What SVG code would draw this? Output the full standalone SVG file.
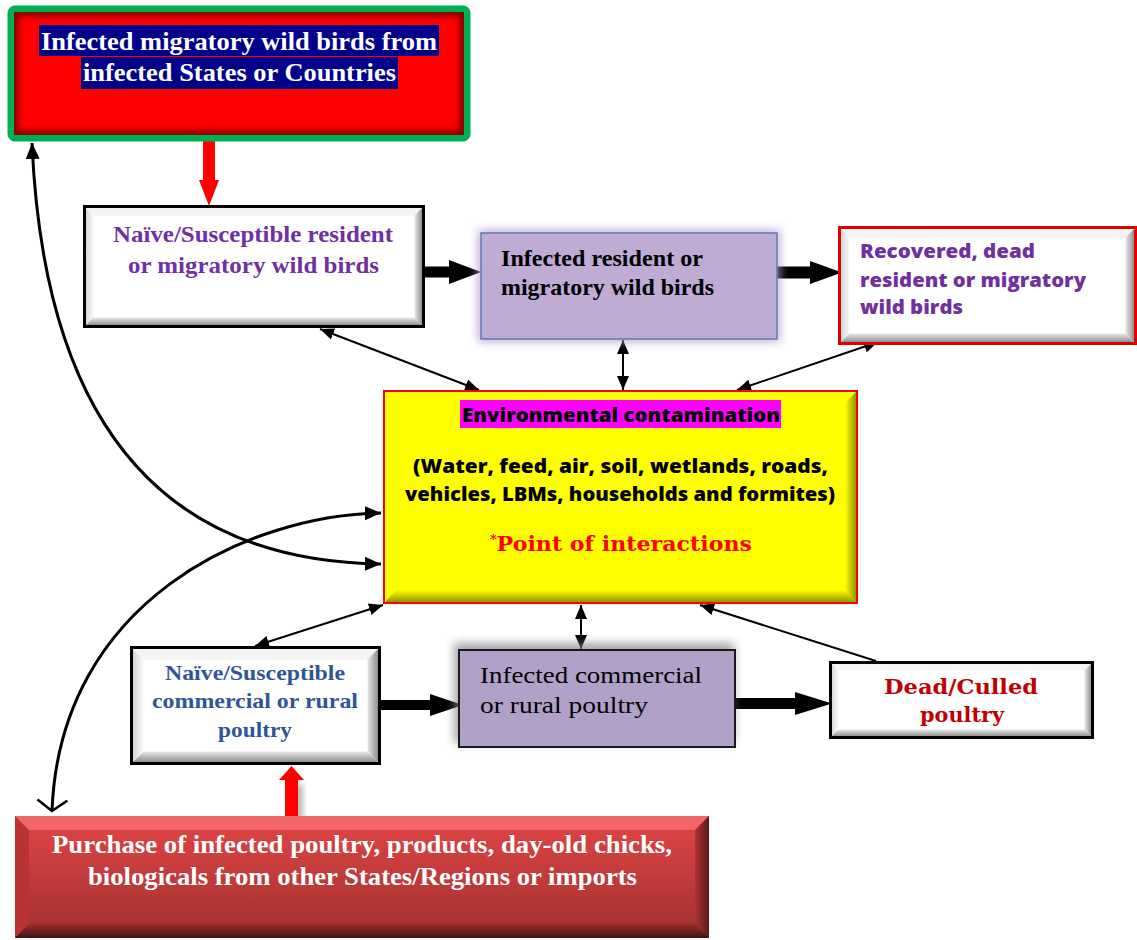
<svg xmlns="http://www.w3.org/2000/svg" width="1137" height="940" viewBox="0 0 1137 940">
<style>
.serifb{font-family:"Liberation Serif","Times New Roman",serif;font-weight:bold;}
.serif{font-family:"Liberation Serif","Times New Roman",serif;}
.sans{font-family:"Open Sans","Noto Sans",sans-serif;font-weight:800;}
.slab{font-family:"DejaVu Serif",serif;font-weight:bold;}
.thin{stroke:#000;stroke-width:2;fill:none;}
.curve{stroke:#000;stroke-width:3;fill:none;}
.thick{fill:#000;}
</style>
<defs>
<linearGradient id="gBot" x1="0" y1="0" x2="0" y2="1"><stop offset="0" stop-color="#e8e8e8"/><stop offset="1" stop-color="#808080"/></linearGradient>
<linearGradient id="gRight" x1="0" y1="0" x2="1" y2="0"><stop offset="0" stop-color="#e8e8e8"/><stop offset="1" stop-color="#808080"/></linearGradient>
<linearGradient id="gLeft" x1="0" y1="0" x2="1" y2="0"><stop offset="0" stop-color="#d0d0d0"/><stop offset="1" stop-color="#fafafa"/></linearGradient>
<linearGradient id="gYBot" x1="0" y1="0" x2="0" y2="1"><stop offset="0" stop-color="#ffff00"/><stop offset="1" stop-color="#8a8a00"/></linearGradient>
<linearGradient id="gYRight" x1="0" y1="0" x2="1" y2="0"><stop offset="0" stop-color="#ffff00"/><stop offset="1" stop-color="#8a8a00"/></linearGradient>
<linearGradient id="gRed" x1="0" y1="0" x2="0" y2="1"><stop offset="0" stop-color="#e24545"/><stop offset="1" stop-color="#a03030"/></linearGradient>
<linearGradient id="gRBot" x1="0" y1="0" x2="0" y2="1"><stop offset="0" stop-color="#9a2e2e"/><stop offset="1" stop-color="#451212"/></linearGradient>
<linearGradient id="gRRight" x1="0" y1="0" x2="1" y2="0"><stop offset="0" stop-color="#b03434"/><stop offset="1" stop-color="#5a1818"/></linearGradient>
<filter id="glow" x="-20%" y="-30%" width="140%" height="160%"><feGaussianBlur stdDeviation="5"/></filter>
<filter id="blur3" x="-20%" y="-30%" width="140%" height="160%"><feGaussianBlur stdDeviation="3"/></filter>
<clipPath id="clipTop"><rect x="14" y="12" width="450" height="123"/></clipPath>
<marker id="ah" viewBox="0 0 14 14" refX="14" refY="7" markerWidth="14" markerHeight="14" markerUnits="userSpaceOnUse" orient="auto-start-reverse"><path d="M0,1 L14,7 L0,13 z" fill="#000"/></marker>
<marker id="ahc" viewBox="0 0 16 16" refX="16" refY="8" markerWidth="16" markerHeight="16" markerUnits="userSpaceOnUse" orient="auto-start-reverse"><path d="M0,1 L16,8 L0,15 z" fill="#000"/></marker>
<marker id="ahv" viewBox="0 0 14 32" refX="12" refY="16" markerWidth="14" markerHeight="32" markerUnits="userSpaceOnUse" orient="auto"><path d="M1,1 L12,16 L1,31" fill="none" stroke="#000" stroke-width="2.5"/></marker>
</defs>
<rect width="1137" height="940" fill="#fff"/>

<g id="connectors">
<path class="curve" d="M32,143 Q50,560 381,564" marker-start="url(#ahc)" marker-end="url(#ahc)"/>
<path class="curve" d="M381,513 C250,515 60,600 52,811" marker-start="url(#ahc)" marker-end="url(#ahv)"/>
<line class="thin" x1="320" y1="329" x2="479" y2="390" marker-start="url(#ah)" marker-end="url(#ah)"/>
<line class="thin" x1="623" y1="340" x2="623" y2="390" stroke-width="3" marker-start="url(#ah)" marker-end="url(#ah)"/>
<line class="thin" x1="878" y1="342" x2="737" y2="390" marker-start="url(#ah)" marker-end="url(#ah)"/>
<line class="thin" x1="383" y1="605" x2="255" y2="646" marker-start="url(#ah)" marker-end="url(#ah)"/>
<line class="thin" x1="581" y1="605" x2="581" y2="649" stroke-width="2.5" marker-start="url(#ah)" marker-end="url(#ah)"/>
<line class="thin" x1="876" y1="661" x2="700" y2="605" marker-end="url(#ah)"/>
<polygon class="thick" points="425,266.5 449,266.5 449,260 481,272 449,284 449,277.5 425,277.5"/>
<polygon class="thick" points="777,266.5 810,266.5 810,261 842,272.5 810,284 810,278.5 777,278.5"/>
<polygon class="thick" points="381,700 430,700 430,694 463,705 430,716 430,710 381,710"/>
<polygon class="thick" points="735,698 795,698 795,692 832,703.5 795,715 795,709 735,709"/>
<polygon fill="#ff0000" points="203,141 215,141 215,180 219,180 209,206 199,180 203,180"/>
<polygon fill="#999" opacity="0.7" filter="url(#blur3)" points="290,784 303,784 303,822 290,822"/>
<polygon fill="#ff0000" points="285,818 298,818 298,780 304,780 291.5,766 279,780 285,780"/>
</g>

<g id="n-wildsource">
<rect x="11" y="9" width="456" height="129" rx="4" fill="#ff0000" stroke="#00b050" stroke-width="7"/>
<g clip-path="url(#clipTop)"><rect x="14" y="12" width="450" height="123" fill="none" stroke="#7a0000" stroke-width="8" filter="url(#blur3)"/></g>
<rect x="39" y="25" width="400" height="31" fill="#00008b"/>
<rect x="81" y="57" width="317" height="32" fill="#00008b"/>
<text class="serifb" x="239" y="50" font-size="26" fill="#fff" text-anchor="middle" textLength="396" lengthAdjust="spacingAndGlyphs">Infected migratory wild birds from</text>
<text class="serifb" x="239.5" y="81" font-size="26" fill="#fff" text-anchor="middle" textLength="313" lengthAdjust="spacingAndGlyphs">infected States or Countries</text>
</g>

<g id="n-naive-wild">
<rect x="84.5" y="206.5" width="339" height="120" fill="#fff"/>
<polygon fill="url(#gLeft)" points="84.5,206.5 93.5,215.5 93.5,317.5 84.5,326.5"/>
<polygon fill="#f4f4f4" points="84.5,206.5 423.5,206.5 414.5,215.5 93.5,215.5"/>
<polygon fill="url(#gRight)" points="423.5,206.5 423.5,326.5 414.5,317.5 414.5,215.5"/>
<polygon fill="url(#gBot)" points="84.5,326.5 423.5,326.5 414.5,317.5 93.5,317.5"/>
<rect x="84.5" y="206.5" width="339" height="120" fill="none" stroke="#000" stroke-width="3"/>
<text class="serifb" x="253" y="242" font-size="23" fill="#7030a0" text-anchor="middle" textLength="280" lengthAdjust="spacingAndGlyphs">Naïve/Susceptible resident</text>
<text class="serifb" x="253.5" y="273" font-size="23" fill="#7030a0" text-anchor="middle" textLength="251" lengthAdjust="spacingAndGlyphs">or migratory wild birds</text>
</g>

<g id="n-infected-wild">
<rect x="478" y="230" width="302" height="112" fill="#b39ad0" opacity="0.8" filter="url(#glow)"/>
<rect x="481" y="233" width="296" height="106" fill="#bfabd3" stroke="#5e7bb0" stroke-width="1.5"/>
<text class="serifb" x="501" y="266" font-size="23" fill="#000" textLength="202" lengthAdjust="spacingAndGlyphs">Infected resident or</text>
<text class="serifb" x="501" y="295" font-size="23" fill="#000" textLength="213" lengthAdjust="spacingAndGlyphs">migratory wild birds</text>
</g>

<g id="n-recovered">
<rect x="839.5" y="227.5" width="296" height="116" fill="#fff"/>
<polygon fill="url(#gLeft)" points="839.5,227.5 849.5,237.5 849.5,333.5 839.5,343.5"/>
<polygon fill="#f4f4f4" points="839.5,227.5 1135.5,227.5 1125.5,237.5 849.5,237.5"/>
<polygon fill="url(#gRight)" points="1135.5,227.5 1135.5,343.5 1125.5,333.5 1125.5,237.5"/>
<polygon fill="url(#gBot)" points="839.5,343.5 1135.5,343.5 1125.5,333.5 849.5,333.5"/>
<rect x="839.5" y="227.5" width="296" height="116" fill="none" stroke="#e00000" stroke-width="3"/>
<text class="sans" x="860" y="258" font-size="20" fill="#7030a0" textLength="175" lengthAdjust="spacingAndGlyphs">Recovered, dead</text>
<text class="sans" x="860" y="287" font-size="20" fill="#7030a0" textLength="226" lengthAdjust="spacingAndGlyphs">resident or migratory</text>
<text class="sans" x="860" y="314" font-size="20" fill="#7030a0" textLength="103" lengthAdjust="spacingAndGlyphs">wild birds</text>
</g>

<g id="n-environment">
<rect x="384" y="391" width="473" height="212" fill="#ffff00"/>
<polygon fill="url(#gYRight)" points="857,391 857,603 845,590 845,403"/>
<polygon fill="url(#gYBot)" points="384,603 857,603 845,590 396,590"/>
<rect x="384" y="391" width="473" height="212" fill="none" stroke="#ff0000" stroke-width="2"/>
<rect x="460" y="400" width="321" height="28" fill="#ff00ff"/>
<text class="sans" x="621" y="422" font-size="20" fill="#000" text-anchor="middle" textLength="318" lengthAdjust="spacingAndGlyphs">Environmental contamination</text>
<text class="sans" x="620.5" y="473" font-size="20" fill="#000" text-anchor="middle" textLength="415" lengthAdjust="spacingAndGlyphs">(Water, feed, air, soil, wetlands, roads,</text>
<text class="sans" x="620" y="501" font-size="20" fill="#000" text-anchor="middle" textLength="430" lengthAdjust="spacingAndGlyphs">vehicles, LBMs, households and formites)</text>
<text class="slab" x="621" y="551" font-size="21" fill="#ff0000" text-anchor="middle" textLength="262" lengthAdjust="spacingAndGlyphs"><tspan font-size="12" dy="-7">*</tspan><tspan dy="7">Point of interactions</tspan></text>
</g>

<g id="n-naive-poultry">
<rect x="131.5" y="647.5" width="248" height="116" fill="#fff"/>
<polygon fill="url(#gLeft)" points="131.5,647.5 143.5,659.5 143.5,751.5 131.5,763.5"/>
<polygon fill="#f4f4f4" points="131.5,647.5 379.5,647.5 367.5,659.5 143.5,659.5"/>
<polygon fill="url(#gRight)" points="379.5,647.5 379.5,763.5 367.5,751.5 367.5,659.5"/>
<polygon fill="url(#gBot)" points="131.5,763.5 379.5,763.5 367.5,751.5 143.5,751.5"/>
<rect x="131.5" y="647.5" width="248" height="116" fill="none" stroke="#000" stroke-width="3"/>
<text class="serifb" x="255" y="680" font-size="22" fill="#2f5597" text-anchor="middle" textLength="180" lengthAdjust="spacingAndGlyphs">Naïve/Susceptible</text>
<text class="serifb" x="255" y="708" font-size="22" fill="#2f5597" text-anchor="middle" textLength="206" lengthAdjust="spacingAndGlyphs">commercial or rural</text>
<text class="serifb" x="255" y="737" font-size="22" fill="#2f5597" text-anchor="middle" textLength="74" lengthAdjust="spacingAndGlyphs">poultry</text>
</g>

<g id="n-infected-poultry">
<rect x="454" y="643" width="280" height="100" fill="#808080" opacity="0.7" filter="url(#glow)"/>
<rect x="459" y="650" width="276" height="97" fill="#b1a0c7" stroke="#1a1a1a" stroke-width="2"/>
<text class="serif" x="480" y="683" font-size="23" fill="#000" textLength="222" lengthAdjust="spacingAndGlyphs">Infected commercial</text>
<text class="serif" x="480" y="713" font-size="23" fill="#000" textLength="168" lengthAdjust="spacingAndGlyphs">or rural poultry</text>
</g>

<g id="n-dead">
<rect x="830.5" y="662.5" width="262" height="75" fill="#fff"/>
<polygon fill="url(#gLeft)" points="830.5,662.5 838.5,670.5 838.5,729.5 830.5,737.5"/>
<polygon fill="#f4f4f4" points="830.5,662.5 1092.5,662.5 1084.5,670.5 838.5,670.5"/>
<polygon fill="url(#gRight)" points="1092.5,662.5 1092.5,737.5 1084.5,729.5 1084.5,670.5"/>
<polygon fill="url(#gBot)" points="830.5,737.5 1092.5,737.5 1084.5,729.5 838.5,729.5"/>
<rect x="830.5" y="662.5" width="262" height="75" fill="none" stroke="#000" stroke-width="3"/>
<text class="slab" x="961" y="694" font-size="20" fill="#c00000" text-anchor="middle" textLength="154" lengthAdjust="spacingAndGlyphs">Dead/Culled</text>
<text class="slab" x="962" y="722" font-size="20" fill="#c00000" text-anchor="middle" textLength="84" lengthAdjust="spacingAndGlyphs">poultry</text>
</g>

<g id="n-purchase">
<rect x="15" y="816" width="694" height="122" fill="url(#gRed)"/>
<polygon fill="#b83434" points="15,816 29,830 29,924 15,938"/>
<polygon fill="#f06666" points="15,816 709,816 695,830 29,830"/>
<polygon fill="url(#gRRight)" points="709,816 709,938 695,924 695,830"/>
<polygon fill="url(#gRBot)" points="15,938 709,938 695,924 29,924"/>
<text class="serifb" x="362" y="853" font-size="26" fill="#fff" text-anchor="middle" textLength="620" lengthAdjust="spacingAndGlyphs">Purchase of infected poultry, products, day-old chicks,</text>
<text class="serifb" x="362.5" y="885" font-size="26" fill="#fff" text-anchor="middle" textLength="549" lengthAdjust="spacingAndGlyphs">biologicals from other States/Regions or imports</text>
</g>
</svg>
